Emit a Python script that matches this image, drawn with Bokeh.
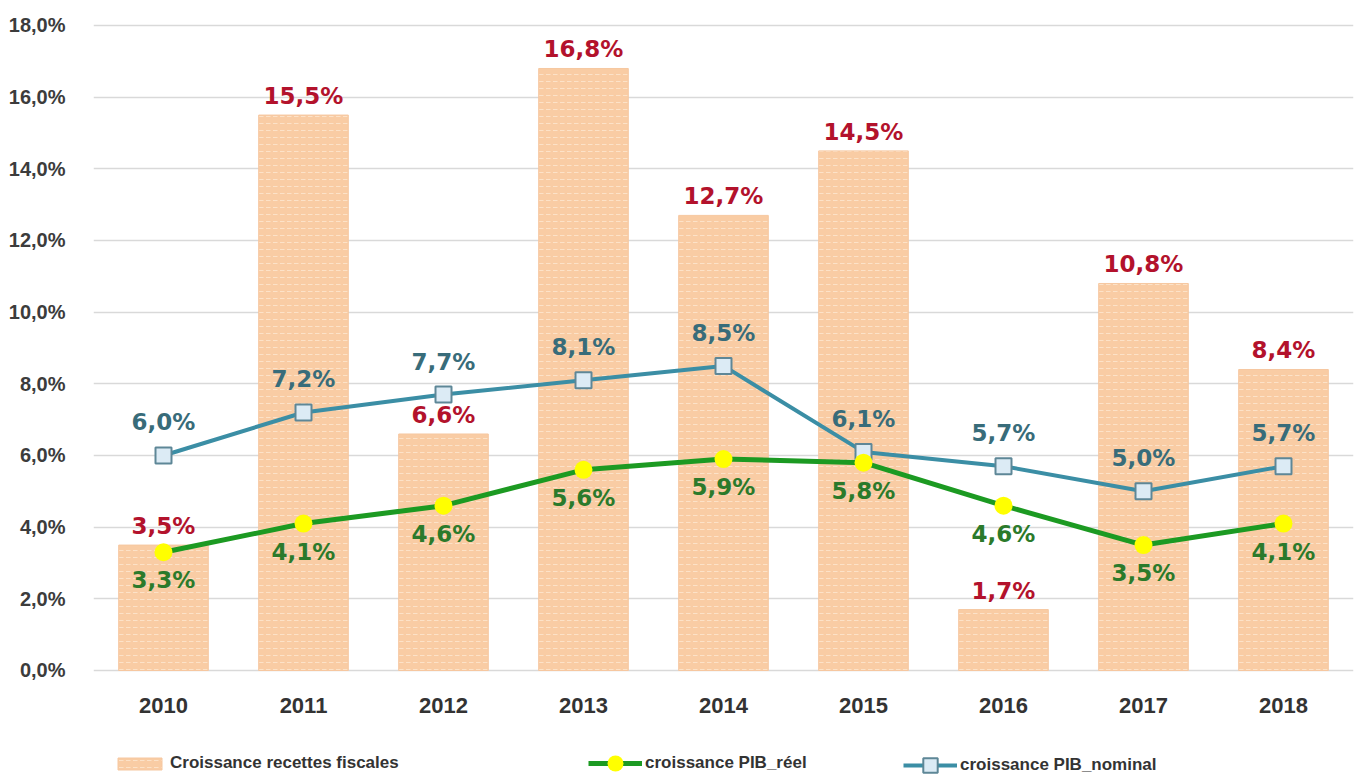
from bokeh.plotting import figure
from bokeh.models import (ColumnDataSource, FactorRange, FixedTicker, CustomJSTickFormatter,
                          Legend, LegendItem)
from bokeh.core.properties import value
from bokeh.embed import file_html
from bokeh.resources import INLINE

years = ["2010", "2011", "2012", "2013", "2014", "2015", "2016", "2017", "2018"]
recettes = [3.5, 15.5, 6.6, 16.8, 12.7, 14.5, 1.7, 10.8, 8.4]
pib_reel = [3.3, 4.1, 4.6, 5.6, 5.9, 5.8, 4.6, 3.5, 4.1]
pib_nominal = [6.0, 7.2, 7.7, 8.1, 8.5, 6.1, 5.7, 5.0, 5.7]
y_ticks = [0, 2, 4, 6, 8, 10, 12, 14, 16, 18]

SANS = "Liberation Sans"


def fmt(v):
    return f"{v:.1f}".replace(".", ",") + "%"


src = ColumnDataSource(dict(
    year=years, base=[0] * len(years),
    rec=recettes, rec_lbl=[fmt(v) for v in recettes],
    reel=pib_reel, reel_lbl=[fmt(v) for v in pib_reel],
    nom=pib_nominal, nom_lbl=[fmt(v) for v in pib_nominal],
))

# the frame extends to the bottom of the canvas so that the legend fits inside it;
# value 0 sits at the same place as the reference's axis line
p = figure(width=1357, height=778, x_range=FactorRange(factors=years, range_padding=0),
           y_range=(-3.014, 18.39), output_backend="svg", toolbar_location=None,
           x_axis_location=None,
           min_border_left=93, min_border_right=4, min_border_top=11, min_border_bottom=0)
p.outline_line_color = None
p.background_fill_color = "white"
p.border_fill_color = "white"

# y axis
p.yaxis.ticker = FixedTicker(ticks=y_ticks)
p.yaxis.formatter = CustomJSTickFormatter(code="return tick.toFixed(1).replace('.', ',') + '%';")
ax = p.yaxis[0]
ax.axis_line_color = None
ax.major_tick_line_color = None
ax.minor_tick_line_color = None
ax.major_label_text_font = SANS
ax.major_label_text_font_style = "bold"
ax.major_label_text_font_size = "20px"
ax.major_label_text_color = "#3c3c3c"
ax.major_label_standoff = 22
p.xgrid.grid_line_color = None
p.ygrid.grid_line_color = "#d9d9d9"
p.ygrid.grid_line_width = 1.5

# bars
bars = p.vbar(x="year", top="rec", width=0.64, source=src, fill_color="#f9cca4",
              line_color="#f6c7a0", line_width=1,
              hatch_pattern="horizontal_dash", hatch_color="#fde4cc", hatch_scale=7,
              hatch_weight=1, hatch_alpha=0.9)

# lines
nom_line = p.line(x="year", y="nom", source=src, line_color="#3b8ea5", line_width=4)
reel_line = p.line(x="year", y="reel", source=src, line_color="#1c9a22", line_width=5)
nom_pts = p.scatter(x="year", y="nom", source=src, marker="square", size=16,
                    fill_color="#dcebf5", line_color="#5e8797", line_width=2)
reel_pts = p.scatter(x="year", y="reel", source=src, marker="circle", size=18,
                     fill_color="#ffff00", line_color=None)

# category labels (x axis), drawn under the zero line
p.text(x="year", y="base", text="year", source=src, y_offset=35, text_align="center",
       text_baseline="middle", text_font=value(SANS), text_font_style="bold",
       text_font_size="22px", text_color="#333333")

# data labels
lab_kw = dict(text_align="center", text_baseline="middle",
              text_font=value("DejaVu Sans"), text_font_style="bold", text_font_size="23px")
p.text(x="year", y="rec", text="rec_lbl", source=src, y_offset=-19, text_color="#b3122c", **lab_kw)
p.text(x="year", y="nom", text="nom_lbl", source=src, y_offset=-33, text_color="#386c7a", **lab_kw)
p.text(x="year", y="reel", text="reel_lbl", source=src, y_offset=28, text_color="#2b7a2b", **lab_kw)

# legends (three separately placed items)
leg_kw = dict(orientation="horizontal", padding=0, margin=0, border_line_color=None,
              background_fill_alpha=0, label_text_font=SANS, label_text_font_style="bold",
              label_text_font_size="17px", label_text_color="#333333", label_standoff=3)
l1 = Legend(items=[LegendItem(label="Croissance recettes fiscales", renderers=[bars])],
            location=(19, 5), glyph_width=55, glyph_height=15, **leg_kw)
l2 = Legend(items=[LegendItem(label="croissance PIB_réel", renderers=[reel_line, reel_pts])],
            location=(495, -5), glyph_width=54, glyph_height=40, **leg_kw)
l3 = Legend(items=[LegendItem(label="croissance PIB_nominal", renderers=[nom_line, nom_pts])],
            location=(810, -5), glyph_width=54, glyph_height=36, **leg_kw)
for lg in (l1, l2, l3):
    p.add_layout(lg)

open("out.html", "w").write(file_html(p, INLINE))
